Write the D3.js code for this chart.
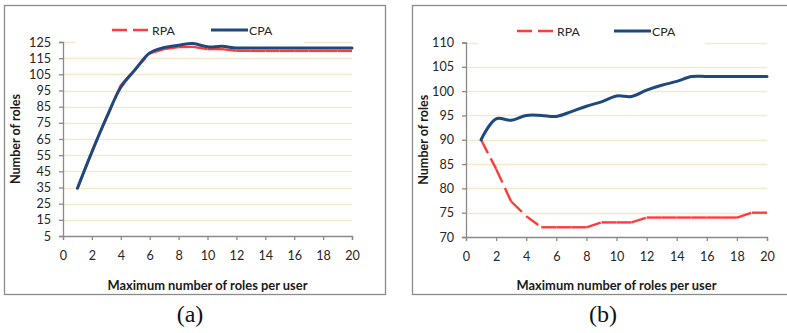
<!DOCTYPE html>
<html>
<head>
<meta charset="utf-8">
<script src="https://cdn.jsdelivr.net/npm/d3@7"></script>
<style>
  html, body { margin: 0; padding: 0; background: #fff; }
  svg { display: block; }
</style>
</head>
<body>
<svg id="chart" width="787" height="333"></svg>
<script>
// Maximum number of roles per user (x values shared by both panels)
const roleLimits = d3.range(1, 21);

// Panel (a)
const rpaA = [34.5, 57, 78, 98.2, 108.2, 118, 120.6, 121.8, 122, 120.6, 120.6, 119.6, 119.5, 119.5, 119.5, 119.5, 119.5, 119.5, 119.5, 119.5];
const cpaA = [34.5, 57, 78, 97, 108, 118.2, 121.6, 123, 124, 122, 122.3, 121.3, 121.3, 121.3, 121.3, 121.3, 121.3, 121.3, 121.3, 121.3];
const yTicksA = [5, 15, 25, 35, 45, 55, 65, 75, 85, 95, 105, 115, 125];

// Panel (b)
const rpaB = [90, 84, 77.3, 74.3, 72, 72, 72, 72, 73, 73, 73, 74, 74, 74, 74, 74, 74, 74, 75, 75];
const cpaB = [90, 94.3, 94, 95, 95, 94.8, 95.8, 96.9, 97.8, 99, 98.9, 100.2, 101.2, 102, 103, 103, 103, 103, 103, 103];
const yTicksB = [70, 75, 80, 85, 90, 95, 100, 105, 110];

const xTicks = [0, 2, 4, 6, 8, 10, 12, 14, 16, 18, 20];
const seriesNames = ["RPA", "CPA"];
const xTitle = "Maximum number of roles per user";
const yTitle = "Number of roles";

const RED = "#ff3b3b";
const BLUE = "#1f497d";
const GRID = "#f4e8cf";
const AXIS = "#8a8a8a";
const FONT = "Lato, 'Open Sans', sans-serif";

const svg = d3.select("#chart");

function drawPanel(cfg) {
  const g = svg.append("g");

  // outer frame
  g.append("rect")
    .attr("x", cfg.frame[0] + 0.5).attr("y", cfg.frame[1] + 0.5)
    .attr("width", cfg.frame[2]).attr("height", cfg.frame[3])
    .attr("fill", "#fff").attr("stroke", AXIS).attr("stroke-width", 1.3);

  const x = d3.scaleLinear().domain([0, 20]).range(cfg.xRange);
  const y = d3.scaleLinear().domain(cfg.yDomain).range(cfg.yRange);

  // horizontal gridlines
  g.append("g").selectAll("line")
    .data(cfg.yTicks.slice(1))
    .join("line")
    .attr("x1", cfg.xRange[0]).attr("x2", cfg.xRange[1])
    .attr("y1", d => Math.round(y(d)) + 0.5).attr("y2", d => Math.round(y(d)) + 0.5)
    .attr("stroke", GRID).attr("stroke-width", 1.5);

  // legend box (white background hides the top gridline)
  const lg = g.append("g");
  lg.append("rect")
    .attr("x", cfg.legendBox[0]).attr("y", cfg.legendBox[1])
    .attr("width", cfg.legendBox[2]).attr("height", cfg.legendBox[3])
    .attr("fill", "#fff");
  const ly = cfg.legendY;
  lg.append("line")
    .attr("x1", cfg.legendRpa).attr("x2", cfg.legendRpa + 36)
    .attr("y1", ly).attr("y2", ly)
    .attr("stroke", RED).attr("stroke-width", 2.4).attr("stroke-dasharray", "15,6");
  lg.append("text")
    .attr("x", cfg.legendRpa + 40).attr("y", ly + 4.5)
    .attr("font-family", FONT).attr("font-size", 12.3).attr("fill", "#262626")
    .text(seriesNames[0]);
  lg.append("line")
    .attr("x1", cfg.legendCpa).attr("x2", cfg.legendCpa + 37)
    .attr("y1", ly).attr("y2", ly)
    .attr("stroke", BLUE).attr("stroke-width", 3);
  lg.append("text")
    .attr("x", cfg.legendCpa + 38).attr("y", ly + 4.5)
    .attr("font-family", FONT).attr("font-size", 12.3).attr("fill", "#262626")
    .text(seriesNames[1]);

  // axes
  const yAxis = d3.axisLeft(y).tickValues(cfg.yTicks).tickSize(4).tickPadding(8);
  const xAxis = d3.axisBottom(x).tickValues(xTicks).tickSize(4).tickPadding(11);
  const ya = g.append("g").attr("transform", `translate(${cfg.xRange[0]},0)`).call(yAxis);
  const xa = g.append("g").attr("transform", `translate(0,${cfg.yRange[0]})`).call(xAxis);
  [ya, xa].forEach(a => {
    a.select(".domain").attr("stroke", AXIS).attr("stroke-width", 1.3);
    a.selectAll(".tick line").attr("stroke", AXIS).attr("stroke-width", 1.3);
    a.selectAll(".tick text")
      .attr("font-family", FONT).attr("font-size", 12.6).attr("fill", "#262626");
  });

  // axis titles
  g.append("text")
    .attr("x", (cfg.xRange[0] + cfg.xRange[1]) / 2).attr("y", 289.5)
    .attr("text-anchor", "middle")
    .attr("font-family", FONT).attr("font-weight", "bold").attr("font-size", 12.9)
    .attr("fill", "#1a1a1a")
    .text(xTitle);
  g.append("text")
    .attr("transform", `translate(${cfg.yTitleX},${(cfg.yRange[0] + cfg.yRange[1]) / 2}) rotate(-90)`)
    .attr("text-anchor", "middle")
    .attr("font-family", FONT).attr("font-weight", "bold").attr("font-size", 12.6)
    .attr("fill", "#1a1a1a")
    .text(yTitle);

  // RPA: dashed, the dash pattern restarts on every segment
  const pts = (vals) => roleLimits.map((r, i) => [x(r), y(vals[i])]);
  const segLine = d3.line();
  const rp = pts(cfg.rpa);
  g.append("g").selectAll("path")
    .data(d3.pairs(rp))
    .join("path")
    .attr("d", d => segLine(d))
    .attr("fill", "none").attr("stroke", RED).attr("stroke-width", 2.4)
    .attr("stroke-dasharray", "15,6");

  // CPA: solid smoothed line
  g.append("path")
    .attr("d", d3.line().curve(d3.curveCatmullRom.alpha(0.5))(pts(cfg.cpa)))
    .attr("fill", "none").attr("stroke", BLUE).attr("stroke-width", 3)
    .attr("stroke-linejoin", "round").attr("stroke-linecap", "round");

  // caption
  svg.append("text")
    .attr("x", cfg.captionX).attr("y", 322)
    .attr("text-anchor", "middle")
    .attr("font-family", "'Liberation Serif', 'DejaVu Serif', serif")
    .attr("font-size", 24).attr("fill", "#111")
    .text(cfg.caption);
}

drawPanel({
  frame: [4, 5, 381, 289],
  xRange: [63, 352],
  yDomain: [5, 125],
  yRange: [236, 42],
  yTicks: yTicksA,
  rpa: rpaA,
  cpa: cpaA,
  legendBox: [75, 18, 229, 28],
  legendY: 30,
  legendRpa: 112,
  legendCpa: 211,
  yTitleX: 20,
  captionX: 190,
  caption: "(a)"
});

drawPanel({
  frame: [412, 5, 390, 289],
  xRange: [466, 767],
  yDomain: [70, 110],
  yRange: [237, 42.5],
  yTicks: yTicksB,
  rpa: rpaB,
  cpa: cpaB,
  legendBox: [478, 18, 227, 28],
  legendY: 31,
  legendRpa: 517,
  legendCpa: 614,
  yTitleX: 428,
  captionX: 603,
  caption: "(b)"
});
</script>
</body>
</html>
